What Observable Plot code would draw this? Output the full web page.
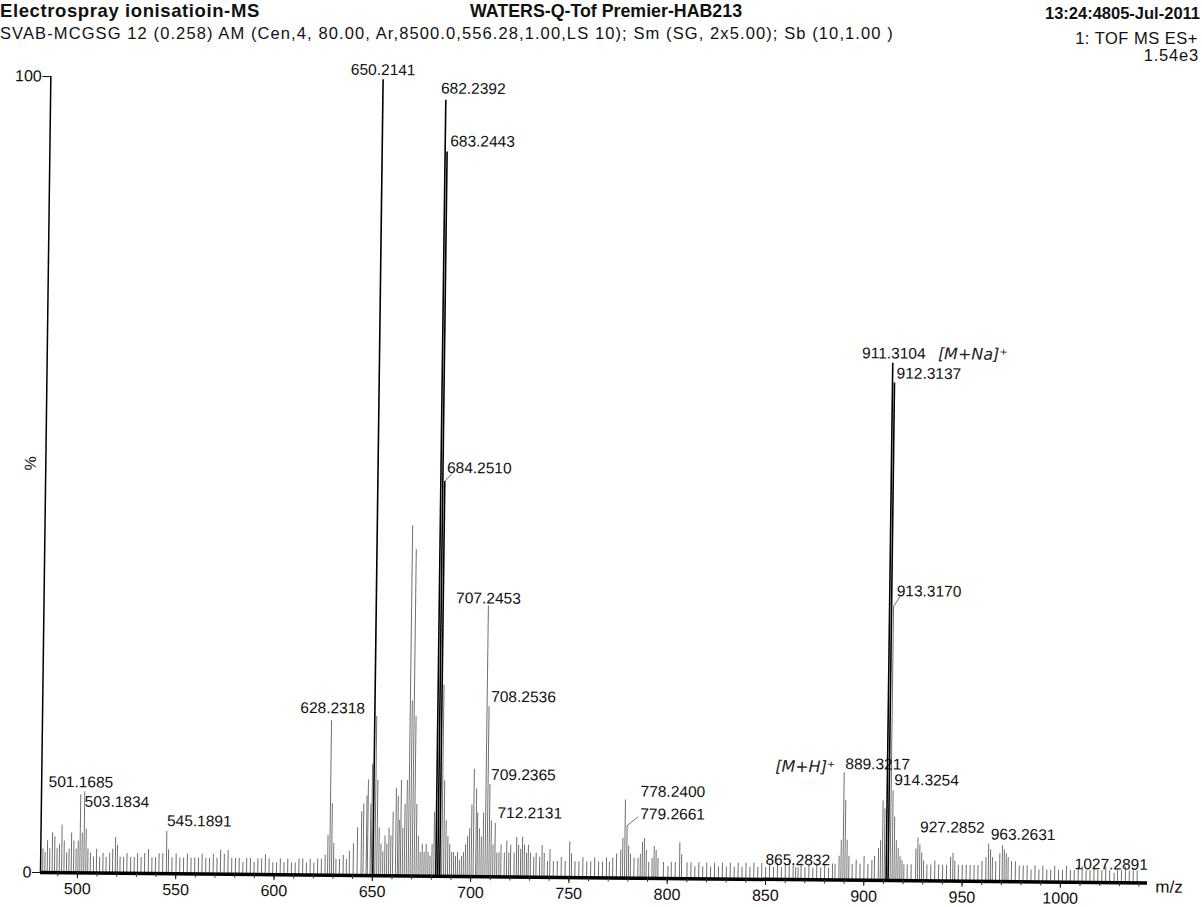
<!DOCTYPE html>
<html><head><meta charset="utf-8">
<script src="https://cdn.jsdelivr.net/npm/d3@7"></script>
<script src="https://cdn.jsdelivr.net/npm/@observablehq/plot@0.6"></script>
<style>
body{margin:0;background:#fff;font-family:"Liberation Sans",Arial,sans-serif;}
#wrap{position:relative;width:1202px;height:907px;overflow:hidden;background:#fff;}
.h{position:absolute;white-space:nowrap;color:#111;line-height:1;}
#chart svg{position:absolute;left:0;top:0;transform-origin:40px 872px;transform:matrix(1,0.0095,-0.013,1,0,0);}
</style></head><body>
<div id="wrap">
<div id="chart"></div>
<div class="h" style="left:0px;top:2px;font-weight:bold;font-size:18.5px;letter-spacing:0.6px">Electrospray ionisatioin-MS</div>
<div class="h" style="left:470px;top:3px;font-weight:bold;font-size:17.8px">WATERS-Q-Tof Premier-HAB213</div>
<div class="h" style="right:2px;top:5px;font-weight:bold;font-size:16.5px">13:24:4805-Jul-2011</div>
<div class="h" style="left:0px;top:25px;font-size:16.5px;letter-spacing:1.1px">SVAB-MCGSG 12 (0.258) AM (Cen,4, 80.00, Ar,8500.0,556.28,1.00,LS 10); Sm (SG, 2x5.00); Sb (10,1.00 )</div>
<div class="h" style="right:4px;top:30px;font-size:16.5px;letter-spacing:0.5px">1: TOF MS ES+</div>
<div class="h" style="right:3px;top:47px;font-size:16.5px;letter-spacing:0.8px">1.54e3</div>
</div>
<script>
// ---- data: [m/z, relative intensity %] ----
const peaks480 = [[482.3,3],[483.4,2.5],[484.6,4],[485.8,3],[487.1,5],[488.3,4.5],[489.5,3],[490.7,3.5],[491.9,6],[493.1,4],[494.4,2.5],[495.6,3],[496.8,5],[498.0,4],[499.2,3],[500.2,4],[501.1685,9.8],[502.2,5],[503.1834,8],[504.2,5.5],[505.2,3],[506.5,2.5],[508.1,2],[509.6,3],[511.2,2],[512.9,2.5],[514.5,2],[516.3,2.5],[517.8,3],[519.2,4.5],[520.2,3.5],[521.6,2],[523.4,2],[525.1,2.5],[527,2],[528.8,2],[530.5,2.5],[532.3,2],[534.1,2.5],[536,3],[537.8,2],[539.6,2],[541.4,2.5],[543.3,2.5],[545.1891,5.3],[546.2,3],[548,2],[550.1,2.5],[552,2],[553.9,2],[555.8,2.5],[557.7,2],[559.6,2],[561.5,2],[563.3,2.5],[565.2,2],[567.1,2],[569,2.5],[570.9,2],[572.7,3],[574.6,2.5],[576.5,3],[578.4,2],[580.3,2],[582.2,2],[584.1,1.5],[586,2],[587.9,2],[589.8,1.5],[591.7,2],[593.6,2],[595.5,2.5],[597.4,2],[599.3,1.5],[601.2,1.5],[603.1,2],[605,1.5],[606.9,2],[608.8,1.5],[610.7,1.5],[612.6,2],[614.5,2],[616.4,1.5],[618.3,2],[620.2,1.5],[622.1,2],[624,2],[625.9,2.5],[627.2,5],[628.2318,19.4],[629.2,9],[630.2,4],[631.4,2],[633.2,2],[635.1,2.5],[636.7,2]];
const peaks640 = [[638.2,3],[640.2,4],[642.2,6],[644.2,8],[645.2,9],[646.8,10],[647.4,12],[648.8,9],[649.4,14],[650.2141,100],[651.2,20],[652.2,12],[653.2,6],[654.2,4],[655.2,3],[656.2,5],[657.2,4],[658.2,6],[659.2,5],[660.2,8],[661.7,11],[662.7,10],[663.4,7],[664.2,12],[665.2,6],[666.2,9],[667.2,12],[668.2,44],[669.2,22],[670.2,41],[671.2,20],[672.2,9],[673.2,5],[674.2,3],[675.2,4],[676.2,3],[677.2,4],[678.2,3],[679.2,2.5],[680.2,4],[681.2,8],[682.2392,97.5],[683.2443,91],[684.2510,49.6],[685.2,24],[686.2,12],[687.2,7],[688.2,5],[689.2,4],[690.2,3],[691.2,3],[692.2,2.5],[693.2,3],[694.2,2],[695.2,2.5],[696.2,3],[697.2,4],[698.2,5],[699.2,6],[700.2,9],[701.2,13.5],[702.5,11],[703.2,8],[704.2,6],[705.2,5],[706.2,8],[707.2453,34],[708.2536,21.4],[709.2365,11.6],[710.2,7],[711.2,4],[712.2131,6.7],[713.2,3]];
const peaks714 = [[714.3,3],[715.3,4],[717,3],[718.2,4.5],[719.3,3],[720.2,4],[722,3],[723.2,5],[724.2,4],[725.3,3.5],[726.2,5],[727.2,4],[728.3,3],[729.2,4],[730.3,3],[732,2.5],[733.2,3],[735,2.5],[736.2,4],[737.3,3],[739,2],[740.2,3.5],[742,2],[744,2],[746,2.5],[748,2],[750.2,4.5],[751.2,3],[753,2],[755,2],[757,2.5],[759,2],[761,2],[763,2.5],[765,2],[767,2],[769,2.5]];
const peaks770 = [[770.5,2],[772.2,2.5],[774.1,3],[776.2,3.5],[777.2,5],[778.2400,9.8],[779.2661,6.6],[780.2,4],[781.2,3],[783,2.5],[785,2.5],[786.2,3],[787.2,4.5],[788.2,5],[789.2,3.5],[790.5,2],[792.2,2.5],[793.2,4],[794.2,3.5],[795.2,2.5],[798,2],[800.3,1.5],[802,2],[804,2],[806.2,4.5],[807.2,3],[810,2]];
const peaks812 = [[812,2],[814,1.5],[816,2],[818,1.5],[820,2],[822,1.5],[824,2],[826,1.5],[828,2],[830,1.5],[832,2],[834,1.5],[836,2],[838,1.5],[840,2],[842,1.5],[844,2],[846,1.5],[848,2],[850,1.5],[852,2],[854,1.5],[856,2],[858,1.5],[860,2],[862,2.5],[864,2],[865.2832,1.5],[866.5,1.5],[868,2],[870,1.5],[872,2],[874,1.5],[876,2],[878,1.5],[880,2],[882,1.5],[884,2],[885.3,2],[887.3,3],[888.3,5],[889.3217,13.5],[890.3,10],[891.3,5],[892.3,3],[894,2],[896,2.5],[898,2],[900,3],[902,2],[904,2.5]];
const peaks905 = [[905.3,3],[907.3,4],[908.3,5],[909.3,10],[910.3,9],[911.3104,65],[912.3137,62.5],[913.3170,34.4],[914.3254,11.3],[915.3,8],[916.3,5],[917.3,4],[918.3,3],[919.3,2.5],[920.3,2],[922,2],[924,2],[926.3,4],[927.2852,5.4],[928.3,4.5],[929.3,3.5],[930.3,2.5],[932,2],[934,2]];
const peaks935 = [[936,2.5],[938,2],[940,2],[942,2],[944,3],[945.2,3.5],[946.2,2.5],[948,2],[950,2],[952,2],[954,2],[956,2],[958,2],[960,2.5],[962,3],[963.2631,4.7],[964.3,4],[965.3,3],[967,2.5],[969,3.5],[970.3,4.5],[971.3,4],[972.3,3.5],[973.3,3],[975,2.5],[977,2.5],[979,2],[981,2],[983,2],[985,1.5],[987,2],[989,1.5],[991,2],[993,1.5],[995,1.5],[997,2],[999,1.5],[1001,1.5],[1003,2],[1005,1.5],[1007,1.5],[1009,2],[1011,2],[1013,1.5],[1015,1.5],[1017,2],[1019,1.5],[1021,1.5],[1023,2],[1025,1.5],[1027.2891,1.2],[1029,1.5],[1031,1.5],[1033,2],[1035,1.5],[1037,1.5],[1039,1.5]];

const labeledMz = [501.1685,503.1834,545.1891,628.2318,650.2141,682.2392,683.2443,684.2510,707.2453,708.2536,709.2365,712.2131,778.2400,779.2661,865.2832,889.3217,911.3104,912.3137,913.3170,914.3254,927.2852,963.2631,1027.2891];
const annotations = [["[M+Na]⁺", 911.3104], ["[M+H]⁺", 889.3217]];
const xTicks = [500,550,600,650,700,750,800,850,900,950,1000];
const yTicks = [0,100];
const minorTicks = d3.range(490, 1041, 10);

// ---- layout (offsets of labels from peak tops, px) ----
const labelLayout = {
  "501.1685":{a:"middle",dx:0,dy:-18},
  "503.1834":{a:"start",dx:0,dy:-13,lead:[0,-18]},
  "545.1891":{a:"start",dx:0,dy:-16},
  "628.2318":{a:"middle",dx:1,dy:-18},
  "650.2141":{a:"middle",dx:0,dy:-15},
  "682.2392":{a:"start",dx:-5,dy:-17},
  "683.2443":{a:"start",dx:3,dy:-16},
  "684.2510":{a:"start",dx:2,dy:-19,lead:[7,-8]},
  "707.2453":{a:"middle",dx:0,dy:-13},
  "708.2536":{a:"start",dx:2,dy:-15},
  "709.2365":{a:"start",dx:1,dy:-15},
  "712.2131":{a:"start",dx:2,dy:-16},
  "778.2400":{a:"start",dx:15,dy:-14},
  "779.2661":{a:"start",dx:13,dy:-17,lead:[11,-9]},
  "865.2832":{a:"middle",dx:2,dy:-13},
  "889.3217":{a:"start",dx:1,dy:-14},
  "911.3104":{a:"middle",dx:1,dy:-15},
  "912.3137":{a:"start",dx:2,dy:-15},
  "913.3170":{a:"start",dx:3,dy:-21,lead:[6,-10]},
  "914.3254":{a:"start",dx:1,dy:-16},
  "927.2852":{a:"start",dx:2,dy:-16},
  "963.2631":{a:"start",dx:2,dy:-15},
  "1027.2891":{a:"middle",dx:-3,dy:-14}
};
const annLayout = {"[M+Na]⁺":{dx:80,dy:-15},"[M+H]⁺":{dx:-39,dy:-11}};

const peaks = [peaks480,peaks640,peaks714,peaks770,peaks812,peaks905,peaks935].flat().map(([mz,h])=>({mz,h}));
const hOf = m => peaks.find(p => Math.abs(p.mz - m) < 1e-6).h;
const labels = labeledMz.map(m => {const t = m.toFixed(4); return {mz:m, h:hOf(m), t, ...labelLayout[t]};});
const leads = labels.filter(d => d.lead);
const anns = annotations.map(([t,m]) => ({t, mz:m, h:hOf(m), ...annLayout[t]}));

const xDom = [481.2, 1044.3];
const font = "'Liberation Sans', Arial, sans-serif";

function place(data) {
  return (i, s, v, dim, ctx, next) => {
    const g = next(i, s, v, dim, ctx);
    d3.select(g).selectAll("text").each(function(_, k){
      const d = data[i[k]];
      d3.select(this).attr("transform", `translate(${s.x(d.mz)+d.dx},${s.y(d.h)+d.dy})`).attr("dy","0.35em");
    });
    return g;
  };
}

const chart = Plot.plot({
  width: 1202, height: 907,
  marginLeft: 40, marginRight: 55, marginTop: 76, marginBottom: 35,
  style: {fontFamily: font, background: "transparent", color: "#111"},
  x: {domain: xDom, label: null},
  y: {domain: [0,100], label: null},
  marks: [
    Plot.ruleX(peaks.filter(d => d.h <= 45), {x:"mz", y1:0, y2:"h", stroke:"#707070", strokeWidth:1}),
    Plot.ruleX(peaks.filter(d => d.h > 45), {x:"mz", y1:0, y2:"h", stroke:"#000", strokeWidth:1.6}),
    Plot.ruleY([0], {stroke:"#000", strokeWidth:3.5}),
    Plot.ruleX([xDom[0]], {y1:0, y2:100, stroke:"#000", strokeWidth:1.5}),
    Plot.axisX(minorTicks, {tickSize:4, tickFormat: () => "", stroke:"#333", label: null}),
    Plot.axisX(xTicks, {tickSize:6, tickPadding:4, fontSize:16, tickFormat: d => String(d), label: null}),
    Plot.axisY(yTicks, {tickSize:8, tickPadding:1, fontSize:16, tickFormat: d => String(d), label: null}),
    Plot.text(["%"], {frameAnchor:"left", dx:-15, dy:-4, rotate:-90, fontSize:16}),
    Plot.text(["m/z"], {x: xDom[1], y: 0, dx: 8, dy: 4, textAnchor:"start", fontSize:17}),
    ...leads.map(d => Plot.link([d], {x1:"mz", y1:"h", x2:"mz", y2:"h", stroke:"#555", strokeWidth:0.8,
        render: (i, s, v, dim, ctx, next) => { const g = next(i, s, v, dim, ctx);
          d3.select(g).selectAll("path").attr("d", () => { const x = s.x(d.mz), y = s.y(d.h); return `M${x},${y}L${x+d.lead[0]},${y+d.lead[1]}`; }); return g; }})),
    ...["start","middle"].map(a => {
      const data = labels.filter(d => d.a === a);
      return Plot.text(data, {x:"mz", y:"h", text:"t", textAnchor:a, fontSize:15.5, fill:"#111", render: place(data)});
    }),
    Plot.text(anns, {x:"mz", y:"h", text:"t", textAnchor:"middle", fontSize:16, fontStyle:"italic", fill:"#222", fontFamily:"'DejaVu Sans', sans-serif", render: place(anns)})
  ]
});
document.getElementById("chart").appendChild(chart);
</script>
</body></html>
